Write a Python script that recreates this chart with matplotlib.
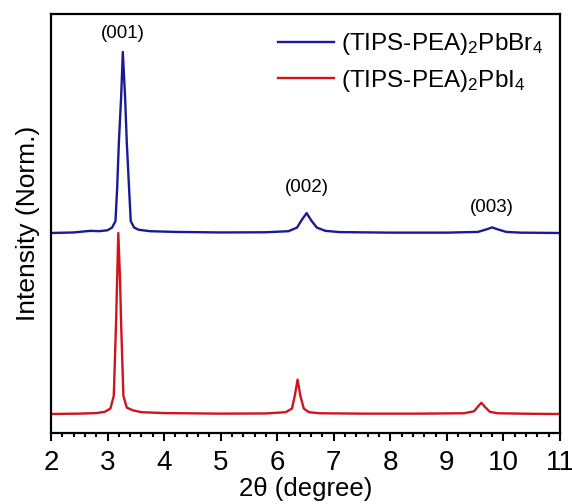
import numpy as np
import matplotlib.pyplot as plt
from matplotlib.ticker import MultipleLocator

plt.rcParams['font.family'] = ['Liberation Sans', 'DejaVu Sans']
plt.rcParams['mathtext.fontset'] = 'custom'
plt.rcParams['mathtext.rm'] = 'Liberation Sans'
plt.rcParams['mathtext.it'] = 'Liberation Sans'

# 2theta positions and normalized intensities
two_theta_br = [2.0, 2.4, 2.7, 2.85, 3.0, 3.08, 3.14, 3.17, 3.2, 3.24, 3.27,
                3.31, 3.34, 3.38, 3.41, 3.47, 3.55, 3.75, 4.2, 5.0, 5.8, 6.2,
                6.35, 6.44, 6.52, 6.6, 6.7, 6.85, 7.1, 8.0, 9.0, 9.55, 9.7,
                9.8, 9.9, 10.05, 10.3, 11.0]
intensity_br = [0.0, 0.003, 0.012, 0.01, 0.015, 0.03, 0.066, 0.25, 0.5, 0.75,
                1.0, 0.75, 0.5, 0.25, 0.066, 0.03, 0.018, 0.01, 0.006, 0.003,
                0.004, 0.01, 0.03, 0.075, 0.11, 0.07, 0.03, 0.012, 0.005,
                0.002, 0.002, 0.006, 0.02, 0.031, 0.02, 0.006, 0.002, 0.0]

two_theta_i = [2.0, 2.5, 2.8, 2.95, 3.05, 3.11, 3.15, 3.17, 3.19, 3.22, 3.24,
               3.28, 3.34, 3.45, 3.6, 4.0, 5.0, 5.8, 6.15, 6.26, 6.31, 6.36,
               6.41, 6.47, 6.56, 6.75, 7.5, 8.5, 9.3, 9.48, 9.56, 9.61, 9.67,
               9.76, 9.9, 10.5, 11.0]
intensity_i = [0.0, 0.002, 0.005, 0.012, 0.03, 0.1, 0.5, 0.75, 1.0, 0.75, 0.5,
               0.1, 0.035, 0.02, 0.01, 0.005, 0.002, 0.003, 0.01, 0.03, 0.1,
               0.19, 0.1, 0.03, 0.01, 0.004, 0.002, 0.002, 0.004, 0.015,
               0.045, 0.062, 0.04, 0.012, 0.004, 0.001, 0.0]

offset_br = 1.0

peak_labels = ["(001)", "(002)", "(003)"]
peak_label_x = [3.27, 6.52, 9.8]
peak_label_y = [2.10, 1.25, 1.14]

fig = plt.figure(figsize=(5.72, 5.04), dpi=100)
ax = fig.add_axes([51 / 572, (504 - 433) / 504, (560 - 51) / 572, (433 - 14) / 504])

ax.plot(two_theta_br, np.array(intensity_br) + offset_br, color='#1a1a96',
        lw=1.7, label=r'(TIPS-PEA)$_\mathrm{2}$PbBr$_\mathrm{4}$')
ax.plot(two_theta_i, intensity_i, color='#d0141c', lw=1.7,
        label=r'(TIPS-PEA)$_\mathrm{2}$PbI$_\mathrm{4}$')

for lab, x, y in zip(peak_labels, peak_label_x, peak_label_y):
    ax.text(x, y, lab, ha='center', va='center', fontsize=13.5)

ax.set_xlim(2, 11)
ax.set_ylim(-0.105, 2.21)
ax.xaxis.set_major_locator(MultipleLocator(1))
ax.xaxis.set_minor_locator(MultipleLocator(0.2))
ax.tick_params(axis='x', which='major', direction='out', length=6, width=1.5,
               labelsize=20, pad=6)
ax.tick_params(axis='x', which='minor', direction='out', length=3, width=1.5)
ax.set_yticks([])
for s in ax.spines.values():
    s.set_linewidth(1.6)

ax.set_xlabel('2θ (degree)', fontsize=18.5, labelpad=1)
ax.set_ylabel('Intensity (Norm.)', fontsize=19, labelpad=8)

ax.legend(loc='upper right', frameon=False, fontsize=17.5, handlelength=2.3,
          handletextpad=0.3, labelspacing=0.45, borderaxespad=0.3)

fig.savefig("out.png", dpi=100)
